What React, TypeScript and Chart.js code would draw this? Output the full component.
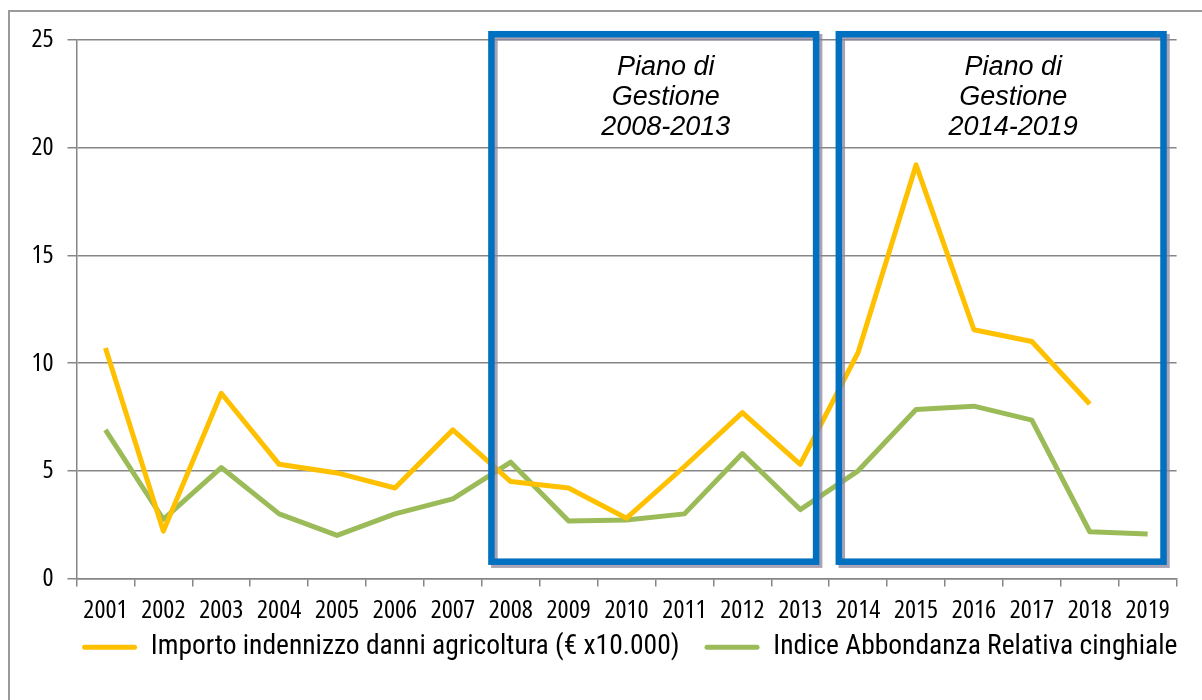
import { useEffect, useRef } from "react";
import { Chart, registerables } from "chart.js";

Chart.register(...registerables);

// Years on the category axis
const years = [
  "2001", "2002", "2003", "2004", "2005", "2006", "2007", "2008", "2009", "2010",
  "2011", "2012", "2013", "2014", "2015", "2016", "2017", "2018", "2019",
];

// Compensation paid for agricultural damage (€ x10.000)
const importoDanni: (number | null)[] = [
  10.7, 2.2, 8.6, 5.3, 4.9, 4.2, 6.9, 4.5, 4.2, 2.8,
  5.2, 7.7, 5.3, 10.5, 19.2, 11.55, 11.0, 8.1, null,
];

// Relative abundance index of wild boar
const indiceAbbondanza: number[] = [
  6.9, 2.75, 5.15, 3.0, 2.0, 3.0, 3.7, 5.4, 2.67, 2.72,
  3.0, 5.8, 3.2, 5.0, 7.85, 8.0, 7.35, 2.17, 2.07,
];

const seriesLabels = [
  "Importo indennizzo danni agricoltura (€ x10.000)",
  "Indice Abbondanza Relativa cinghiale",
];

// Value axis
const yMin = 0;
const yMax = 25;
const yStep = 5;

// Management plan periods
const planStart = ["2008", "2014"];
const planEnd = ["2013", "2019"];
const planText = [
  ["Piano di", "Gestione", "2008-2013"],
  ["Piano di", "Gestione", "2014-2019"],
];

// Narrow faces ("condensed" ends up in the canvas font shorthand)
const TICK_FONT = { family: '"Open Sans", sans-serif', size: 26, weight: "condensed" as any };
const LEGEND_FONT = { family: "Roboto, sans-serif", size: 27.5, weight: "condensed" as any };
const GRID = "#868686";

// Grey frame around the chart, open on the right and bottom
const framePlugin = {
  id: "frame",
  beforeDraw(chart: any) {
    const { ctx, width, height } = chart;
    ctx.save();
    ctx.strokeStyle = "#9a9a9a";
    ctx.lineWidth = 2;
    ctx.beginPath();
    ctx.moveTo(9, height);
    ctx.lineTo(9, 11);
    ctx.lineTo(width, 11);
    ctx.stroke();
    ctx.restore();
  },
};

// Place the legend row under the plot area, a little higher than its default slot
const legendUnderPlot = {
  id: "legendUnderPlot",
  afterLayout(chart: any) {
    const lg = chart.legend;
    if (!lg) return;
    lg.left = chart.chartArea.left - 23;
    lg.right = chart.width + 4;
    lg.width = lg.right - lg.left;
    lg.top -= 16;
    lg.bottom -= 16;
  },
};

// Blue framed boxes marking each management plan period, with a soft shadow
const planPlugin = {
  id: "planBoxes",
  afterDatasetsDraw(chart: any) {
    const { ctx } = chart;
    const x = chart.scales.x;
    const y = chart.scales.y;
    const lw = 6.5;
    planStart.forEach((start, i) => {
      const left = x.getPixelForValue(years.indexOf(start) - 0.39);
      const right = x.getPixelForValue(years.indexOf(planEnd[i]) + 0.33);
      const top = y.getPixelForValue(25.42);
      const bottom = y.getPixelForValue(0.63);
      const w = right - left;
      const h = bottom - top;
      ctx.save();
      ctx.lineJoin = "miter";
      ctx.lineWidth = lw;
      ctx.strokeStyle = "rgba(140,132,156,0.75)";
      ctx.strokeRect(left + lw / 2 + 3, top + lw / 2 + 3, w - lw, h - lw);
      ctx.strokeStyle = "#0070C0";
      ctx.strokeRect(left + lw / 2, top + lw / 2, w - lw, h - lw);

      ctx.fillStyle = "#000";
      ctx.font = 'italic 27px "Liberation Sans", Arial, sans-serif';
      ctx.textAlign = "center";
      ctx.textBaseline = "alphabetic";
      const cx = (left + right) / 2 + 12;
      planText[i].forEach((line, k) => {
        ctx.fillText(line, cx, top + 44 + k * 30);
      });
      ctx.restore();
    });
  },
};

export default function App() {
  const canvasRef = useRef<HTMLCanvasElement | null>(null);

  useEffect(() => {
    if (!canvasRef.current) return;
    const chart = new Chart(canvasRef.current, {
      type: "line",
      data: {
        labels: years,
        datasets: [
          {
            label: seriesLabels[0],
            data: importoDanni,
            borderColor: "#FFC000",
            backgroundColor: "#FFC000",
            borderWidth: 5,
            spanGaps: false,
          },
          {
            label: seriesLabels[1],
            data: indiceAbbondanza,
            borderColor: "#9BBB59",
            backgroundColor: "#9BBB59",
            borderWidth: 5,
          },
        ],
      },
      plugins: [framePlugin, legendUnderPlot, planPlugin],
      options: {
        responsive: false,
        animation: false,
        devicePixelRatio: 1,
        layout: { padding: { left: 0, right: 25.4, top: 40, bottom: 13 } },
        elements: {
          point: { radius: 0, hoverRadius: 0 },
          line: { tension: 0, borderJoinStyle: "round", borderCapStyle: "butt" },
        },
        plugins: {
          tooltip: { enabled: false },
          legend: {
            position: "bottom",
            labels: {
              color: "#000",
              font: LEGEND_FONT,
              boxWidth: 55,
              boxHeight: 5,
              padding: 25,
              generateLabels(c: any) {
                const items = (Chart.defaults.plugins.legend.labels as any).generateLabels(c);
                items.forEach((it: any) => {
                  it.lineWidth = 0;
                  it.fillStyle = it.strokeStyle;
                  it.borderRadius = 2.5;
                });
                return items;
              },
            },
          },
        },
        scales: {
          x: {
            offset: true,
            grid: {
              offset: true,
              drawOnChartArea: false,
              color: GRID,
              lineWidth: 1.5,
              tickLength: 8,
            },
            border: { color: GRID, width: 1.5 },
            ticks: {
              color: "#000",
              font: TICK_FONT,
              padding: 8,
              maxRotation: 0,
              autoSkip: false,
            },
            afterFit(s: any) {
              s.height = 46;
            },
          },
          y: {
            min: yMin,
            max: yMax,
            ticks: {
              stepSize: yStep,
              color: "#000",
              font: TICK_FONT,
              padding: 14,
            },
            grid: { color: GRID, lineWidth: 1.5, tickLength: 9 },
            border: { color: GRID, width: 1.5 },
            afterFit(s: any) {
              s.width = 76.5;
            },
          },
        },
      },
    } as any);
    return () => chart.destroy();
  }, []);

  return (
    <div style={{ position: "fixed", left: 0, top: 0, width: 1202, height: 700, background: "#fff" }}>
      <canvas ref={canvasRef} width={1202} height={700} style={{ width: 1202, height: 700, display: "block" }} />
    </div>
  );
}
